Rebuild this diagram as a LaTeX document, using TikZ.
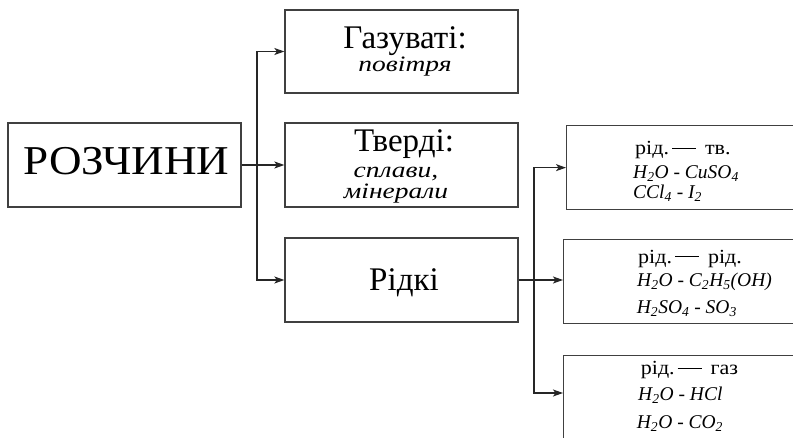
\documentclass[tikz,border=0pt]{standalone}
\usepackage{fontspec}
\setmainfont{Liberation Serif}
\newfontfamily\widefont{Liberation Serif}[FakeStretch=1.1]
\newfontfamily\wideital{Liberation Serif}[FakeStretch=1.25]
\usetikzlibrary{arrows.meta,calc}

\tikzset{
  box/.style={draw=black!75, line width=1.3pt, rectangle, inner sep=0pt},
  conn/.style={draw=black!85, line width=1.2pt},
  arr/.style={conn, -{Stealth[length=10pt,width=7pt,inset=2.5pt]}},
  lbl/.style={anchor=base, inner sep=0pt},
  head/.style={lbl, font=\fontsize{33}{33}\selectfont},
  sub/.style={lbl, font=\wideital\fontsize{22}{22}\selectfont\itshape},
  pair/.style={anchor=base west, inner sep=0pt, font=\widefont\fontsize{20}{20}\selectfont},
  frm/.style={anchor=base west, inner sep=0pt, font=\fontsize{19.5}{20}\selectfont\itshape},
}
\newcommand{\lnk}{\hspace{3pt}\rule[0.3em]{24pt}{0.8pt}\hspace{9pt}}
\newcommand{\sbs}[1]{\textsubscript{#1}}

\begin{document}
\begin{tikzpicture}[x=1pt, y=-1pt]
  \useasboundingbox (0,0) rectangle (793,438);
  \clip (0,0) rectangle (793,438);

  % left column
  \node[box, minimum width=233pt, minimum height=84pt] (root) at (124.5,165) {};
  \node[lbl, font=\widefont\fontsize{41}{41}\selectfont] (rootlbl) at (126.5,175) {РОЗЧИНИ};

  % middle column
  \node[box, minimum width=233pt, minimum height=83pt] (gaz) at (401.5,51.5) {};
  \node[head] (gazlbl) at (405,48.5) {Газуваті:};
  \node[sub] (gazex) at (405,72) {повітря};

  \node[box, minimum width=233pt, minimum height=84pt] (tv) at (401.5,165) {};
  \node[head] (tvlbl) at (404,151.7) {Тверді:};
  \node[sub] (tvex1) at (396,177.7) {сплави,};
  \node[sub] (tvex2) at (396,198.3) {мінерали};

  \node[box, minimum width=233pt, minimum height=84pt] (rid) at (401.5,280) {};
  \node[head] (ridlbl) at (404,290.5) {Рідкі};

  % right column (boxes run past the right edge)
  \node[box, anchor=north west, minimum width=260pt, minimum height=84pt] (s1) at (566,125) {};
  \node[box, anchor=north west, minimum width=260pt, minimum height=84pt] (s2) at (563,239) {};
  \node[box, anchor=north west, minimum width=260pt, minimum height=110pt] (s3) at (563,355) {};

  \node[pair] (s1a) at (635,155) {рід.\lnk тв.};
  \node[frm] (s1b) at (633,178.3) {H\sbs{2}O - CuSO\sbs{4}};
  \node[frm] (s1c) at (633,198.3) {CCl\sbs{4} - I\sbs{2}};

  \node[pair] (s2a) at (638,263.3) {рід.\lnk рід.};
  \node[frm] (s2b) at (637,286.7) {H\sbs{2}O - C\sbs{2}H\sbs{5}(OH)};
  \node[frm] (s2c) at (636.7,313.3) {H\sbs{2}SO\sbs{4} - SO\sbs{3}};

  \node[pair] (s3a) at (640.7,375) {рід.\lnk газ};
  \node[frm] (s3b) at (638,400) {H\sbs{2}O - HCl};
  \node[frm] (s3c) at (636.7,428.3) {H\sbs{2}O - CO\sbs{2}};

  % connectors from the root
  \coordinate (j1) at (257,165);
  \draw[arr] (root.east) -- (tv.west);
  \draw[arr] (j1) |- (gaz.west);
  \draw[arr] (j1) |- (rid.west);

  % connectors from the liquid branch
  \coordinate (j2) at (534,280);
  \coordinate (s3in) at ($(s3.north west)+(0,38)$);
  \draw[arr] (rid.east) -- (rid.east -| s2.west);
  \draw[arr] (j2) |- (s1.west);
  \draw[arr] (j2) |- (s3in);
\end{tikzpicture}
\end{document}
